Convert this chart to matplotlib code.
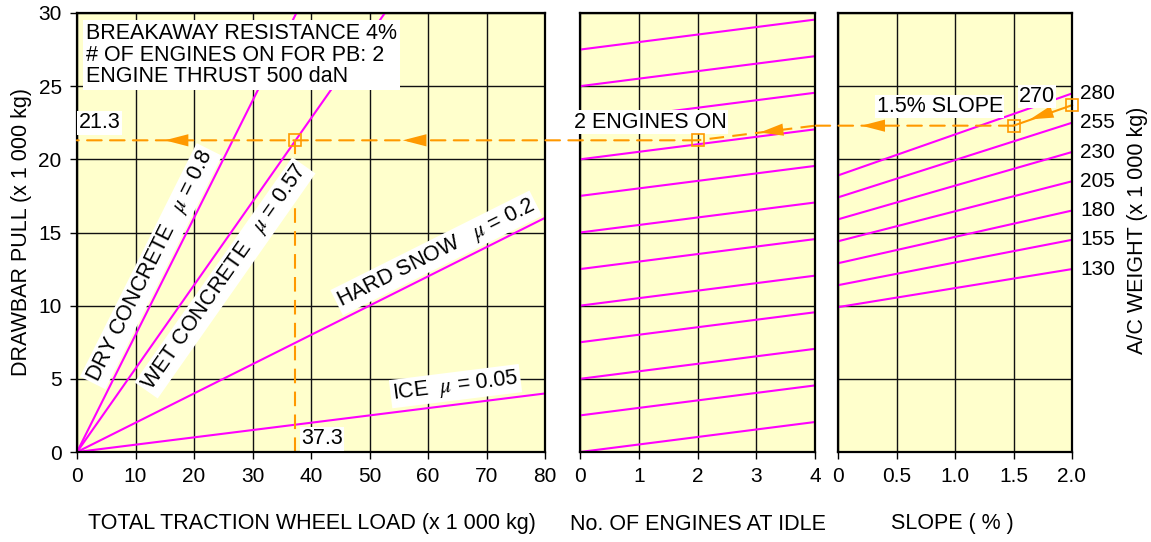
import numpy as np
import matplotlib.pyplot as plt
from matplotlib.patches import ConnectionPatch

plt.rcParams['font.family'] = ['Liberation Sans', 'DejaVu Sans']
plt.rcParams['mathtext.fontset'] = 'stix'

# --- data ---
# left panel: drawbar pull = mu * wheel load
surfaces = ['DRY CONCRETE', 'WET CONCRETE', 'HARD SNOW', 'ICE']
mu_values = [0.8, 0.57, 0.2, 0.05]
mu_labels = ['0.8', '0.57', '0.2', '0.05']
wheel_load = [0, 80]

# middle panel: guide lines, pull at 0 and at 4 engines idle
engines = [0, 4]
idle_pull_0 = [0.0, 2.5, 5.0, 7.5, 10.0, 12.5, 15.0, 17.5, 20.0, 22.5, 25.0, 27.5]
idle_pull_4 = [2.05, 4.55, 7.05, 9.55, 12.05, 14.55, 17.05, 19.55, 22.05, 24.55, 27.05, 29.55]

# right panel: A/C weight lines, pull at 0 % and 2 % slope
weights = [130, 155, 180, 205, 230, 255, 280]
slopes = [0, 2.0]
slope_pull_0 = [9.9, 11.4, 12.9, 14.4, 15.9, 17.4, 18.9]
slope_pull_2 = [12.5, 14.5, 16.5, 18.5, 20.5, 22.5, 24.5]

# worked example
ex_weight = 270
ex_slope = 1.5
ex_pull_start = 23.7     # 270 t at 2 % edge
ex_pull_slope = 22.3     # after 1.5 % slope
ex_engines = 2
ex_pull = 21.3           # after 2 engines on
ex_load = 37.3

yellow = '#ffffcc'
magenta = '#ff00ff'
orange = '#ff9900'
dash = (0, (7, 4))
fs = 15.5      # annotation text
fs_tick = 15

W, H = 1151, 542
fig = plt.figure(figsize=(W / 100, H / 100), dpi=100)


def box(x0, x1, y0=13, y1=452):
    return [x0 / W, 1 - y1 / H, (x1 - x0) / W, (y1 - y0) / H]


ax_l = fig.add_axes(box(77, 545))
ax_m = fig.add_axes(box(580, 815))
ax_r = fig.add_axes(box(838, 1072))

for ax in (ax_l, ax_m, ax_r):
    ax.set_facecolor(yellow)
    ax.set_ylim(0, 30)
    ax.set_yticks(np.arange(0, 31, 5))
    ax.grid(True, color='#111111', lw=1.0)
    ax.set_axisbelow(True)
    for s in ax.spines.values():
        s.set_linewidth(1.6)
    ax.tick_params(labelsize=fs_tick, length=5, width=1.0, pad=6)

ax_l.set_xlim(0, 80)
ax_l.set_xticks(np.arange(0, 81, 10))
ax_l.tick_params(axis='y', pad=6)

ax_m.set_xlim(0, 4)
ax_m.set_xticks([0, 1, 2, 3, 4])
ax_m.tick_params(axis='y', length=0, labelleft=False)

ax_r.set_xlim(0, 2)
ax_r.set_xticks([0, 0.5, 1.0, 1.5, 2.0])
ax_r.set_xticklabels(['0', '0.5', '1.0', '1.5', '2.0'])
ax_r.tick_params(axis='y', length=0, labelleft=False)

# left panel lines and labels
for mu in mu_values:
    ax_l.plot(wheel_load, [mu * v for v in wheel_load], color=magenta, lw=1.5)


def screen_angle(ax, slope):
    p = ax.transData.transform([(0, 0), (1, slope)])
    return np.degrees(np.arctan2(p[1, 1] - p[0, 1], p[1, 0] - p[0, 0]))


label_pos = [(12.65, 12.7), (25.3, 11.9), (61.4, 13.6), (64.7, 4.5)]
gaps = ['   ', '   ', '   ', '  ']
for name, mu, ml, pos, g in zip(surfaces, mu_values, mu_labels, label_pos, gaps):
    ax_l.text(pos[0], pos[1], name + g + r'$\mu$ = ' + ml, fontsize=fs,
              rotation=screen_angle(ax_l, mu), rotation_mode='anchor',
              ha='center', va='center',
              bbox=dict(facecolor='white', edgecolor='none', pad=1.5))

ax_l.text(1.5, 29.3, 'BREAKAWAY RESISTANCE 4%\n# OF ENGINES ON FOR PB: 2\nENGINE THRUST 500 daN',
          fontsize=fs, ha='left', va='top', linespacing=1.02,
          bbox=dict(facecolor='white', edgecolor='none', pad=2))

# middle panel lines
for a, b in zip(idle_pull_0, idle_pull_4):
    ax_m.plot(engines, [a, b], color=magenta, lw=1.5)

# right panel lines and weight labels
for w, a, b in zip(weights, slope_pull_0, slope_pull_2):
    ax_r.plot(slopes, [a, b], color=magenta, lw=1.5)
    ax_r.annotate(str(w), xy=(2.0, b), xytext=(6, 0), textcoords='offset points',
                  fontsize=fs_tick, ha='left', va='center', annotation_clip=False)

# worked example path
ax_r.plot([2.0, ex_slope], [ex_pull_start, ex_pull_slope], color=orange, lw=1.5,
          clip_on=False)
ax_m.plot([4, ex_engines], [ex_pull_slope, ex_pull], color=orange, lw=1.5, ls=dash)
ax_l.plot([ex_load, ex_load], [0, ex_pull], color=orange, lw=1.5, ls=dash)

for xa, axa, xb, axb, yv in [(ex_slope, ax_r, 4, ax_m, ex_pull_slope),
                             (ex_engines, ax_m, 0, ax_l, ex_pull)]:
    con = ConnectionPatch(xyA=(xa, yv), coordsA='data', axesA=axa,
                          xyB=(xb, yv), coordsB='data', axesB=axb,
                          color=orange, lw=1.5, linestyle=dash)
    fig.add_artist(con)

sq = dict(marker='s', ms=8, mfc='none', mec=orange, mew=1.2, clip_on=False, zorder=5)
ax_r.plot([2.0], [ex_pull_start], **sq)
ax_r.plot([ex_slope], [ex_pull_slope], **sq)
ax_m.plot([ex_engines], [ex_pull], **sq)
ax_l.plot([ex_load], [ex_pull], **sq)


def head(ax, tip, tail):
    ax.annotate('', xy=tip, xytext=tail, annotation_clip=False,
                arrowprops=dict(arrowstyle='-|>,head_length=0.85,head_width=0.22',
                                mutation_scale=20, color=orange, lw=0,
                                shrinkA=0, shrinkB=0))


head(ax_l, (15, ex_pull), (20, ex_pull))
head(ax_l, (55.7, ex_pull), (60.7, ex_pull))
head(ax_m, (3.06, 21.83), (3.5, 22.05))
head(ax_r, (0.2, ex_pull_slope), (0.45, ex_pull_slope))
head(ax_r, (1.64, 22.73), (1.84, 23.27))

wbox = dict(facecolor='white', edgecolor='none', pad=1)
ax_l.text(0.3, 22.5, '21.3', fontsize=fs, ha='left', va='center', bbox=wbox)
ax_l.text(38.3, 0.9, '37.3', fontsize=fs, ha='left', va='center', bbox=wbox)
ax_m.text(1.19, 22.55, '2 ENGINES ON', fontsize=fs, ha='center', va='center', bbox=wbox)
ax_r.text(0.87, 23.6, '1.5% SLOPE', fontsize=fs, ha='center', va='center', bbox=wbox)
ax_r.text(1.70, 24.3, '270', fontsize=fs, ha='center', va='center', bbox=wbox)

# axis titles
fig.text(22 / W, 1 - 232 / H, 'DRAWBAR PULL (x 1 000 kg)', rotation=90,
         fontsize=fs, ha='center', va='center')
fig.text(1137 / W, 1 - 230 / H, 'A/C WEIGHT (x 1 000 kg)', rotation=90,
         fontsize=fs, ha='center', va='center')
fig.text(312 / W, 1 - 524 / H, 'TOTAL TRACTION WHEEL LOAD (x 1 000 kg)',
         fontsize=fs, ha='center', va='center')
fig.text(698 / W, 1 - 524 / H, 'No. OF ENGINES AT IDLE', fontsize=fs,
         ha='center', va='center')
fig.text(952 / W, 1 - 524 / H, 'SLOPE ( % )', fontsize=fs, ha='center', va='center')

fig.savefig('out.png', dpi=100, facecolor='white')
